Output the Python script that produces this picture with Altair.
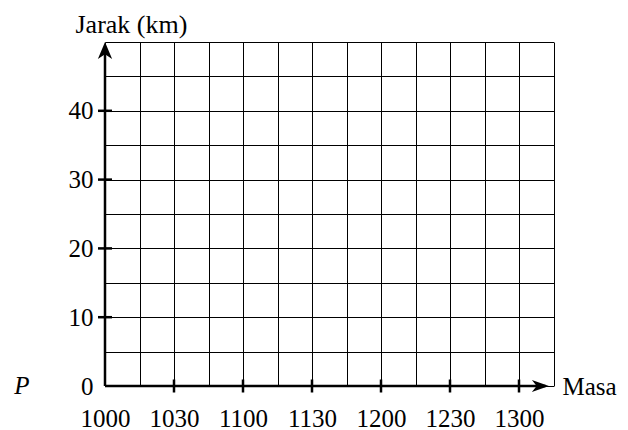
import altair as alt
import pandas as pd

# Time axis: minutes after 10:00, labels as printed
x_label_pos = [0, 30, 60, 90, 120, 150, 180]
x_labels = ["1000", "1030", "1100", "1130", "1200", "1230", "1300"]
x_grid = [0, 15, 30, 45, 60, 75, 90, 105, 120, 135, 150, 165, 180, 195]
x_tick_pos = [30, 60, 90, 120, 150, 180]

# Distance axis (km)
y_label_pos = [0, 10, 20, 30, 40]
y_grid = [0, 5, 10, 15, 20, 25, 30, 35, 40, 45, 50]
y_tick_pos = [10, 20, 30, 40]

x_max = 195
y_max = 50
x_arrow_tip = 193
y_arrow_tip = 50

FONT = "Liberation Serif"
FS = 25
TFS = 26

xs = alt.Scale(domain=[0, x_max], nice=False, zero=False)
ys = alt.Scale(domain=[0, y_max], nice=False, zero=False)

pos_arr = "[" + ",".join(str(v) for v in x_label_pos) + "]"
lab_arr = "[" + ",".join("'" + s + "'" for s in x_labels) + "]"
x_expr = f"indexof({pos_arr}, datum.value) >= 0 ? {lab_arr}[indexof({pos_arr}, datum.value)] : ''"
ypos_arr = "[" + ",".join(str(v) for v in y_label_pos) + "]"
y_expr = f"indexof({ypos_arr}, datum.value) >= 0 ? datum.label : ''"

xaxis = alt.Axis(
    values=x_grid, labelExpr=x_expr, grid=True, gridColor="black", gridWidth=1,
    gridOpacity=1, domain=False, ticks=False, tickSize=0, labelPadding=40,
    labelBaseline="alphabetic", labelFont=FONT, labelFontSize=FS, labelColor="black",
    labelAngle=0, labelFlush=False, labelOverlap=False, labelBound=False,
    title="Masa", titleFont=FONT, titleFontSize=FS, titleFontWeight="normal",
    titleColor="black", titleX=457, titleY=8, titleAlign="left",
    titleBaseline="alphabetic", titleAngle=0,
)
yaxis = alt.Axis(
    values=y_grid, labelExpr=y_expr, grid=True, gridColor="black", gridWidth=1,
    gridOpacity=1, domain=False, ticks=False, tickSize=0, labelPadding=12,
    labelFont=FONT, labelFontSize=FS, labelColor="black", labelFlush=False,
    labelOverlap=False, labelBound=False,
    title="Jarak (km)", titleFont=FONT, titleFontSize=TFS, titleFontWeight="normal",
    titleColor="black", titleX=-30, titleY=-10, titleAlign="left",
    titleBaseline="alphabetic", titleAngle=0,
)

X = alt.X("x:Q", scale=xs, axis=xaxis)
Y = alt.Y("y:Q", scale=ys, axis=yaxis)

axes_df = pd.DataFrame({"x": [0, 0], "y": [0, 0], "x2": [0, x_arrow_tip - 1.5], "y2": [y_arrow_tip - 1.5, 0]})
axis_lines = alt.Chart(axes_df).mark_rule(color="black", strokeWidth=2.5).encode(
    x=X, y=Y, x2="x2:Q", y2="y2:Q"
)

yarrow = alt.Chart(pd.DataFrame({"x": [0], "y": [y_arrow_tip]})).mark_point(
    shape="M0,0 L0.42,1 L0,0.72 L-0.42,1 Z", size=1156, filled=True, color="black", opacity=1, strokeWidth=0
).encode(x=X, y=Y)

xarrow = alt.Chart(pd.DataFrame({"x": [x_arrow_tip], "y": [0]})).mark_point(
    shape="M0,0 L-1,-0.36 L-0.72,0 L-1,0.36 Z", size=1156, filled=True, color="black", opacity=1, strokeWidth=0
).encode(x=X, y=Y)

yticks = alt.Chart(pd.DataFrame({"x": [0] * len(y_tick_pos), "y": y_tick_pos})).mark_tick(
    orient="horizontal", size=14, thickness=2.5, color="black", opacity=1
).encode(x=X, y=Y)

xticks = alt.Chart(pd.DataFrame({"x": x_tick_pos, "y": [0] * len(x_tick_pos)})).mark_tick(
    orient="vertical", size=13, thickness=2.5, color="black", opacity=1
).encode(x=X, y=Y)

p_label = alt.Chart(pd.DataFrame({"y": [0], "t": ["P"]})).mark_text(
    font=FONT, fontSize=FS, fontStyle="italic", align="center", baseline="middle", color="black"
).encode(x=alt.value(-83), y=Y, text="t:N")

chart = alt.layer(axis_lines, yticks, xticks, yarrow, xarrow, p_label).properties(
    width=448.5, height=344, autosize="none",
    padding={"left": 97, "top": 34, "right": 66, "bottom": 44},
).configure_view(stroke=None)

chart.save("out.html", embed_options={"renderer": "svg", "actions": False})
